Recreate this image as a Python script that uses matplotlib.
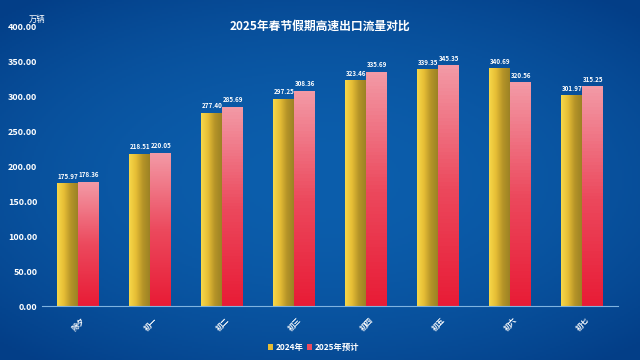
import numpy as np
import matplotlib.pyplot as plt
from matplotlib.patches import Patch

plt.rcParams['font.family'] = ['Noto Sans CJK SC', 'DejaVu Sans']

days = ['除夕', '初一', '初二', '初三', '初四', '初五', '初六', '初七']
y2024 = [175.97, 218.51, 277.40, 297.25, 323.46, 339.35, 340.69, 301.97]
y2025 = [178.36, 220.05, 285.69, 308.36, 335.69, 345.35, 320.56, 315.25]
yticks = [0, 50, 100, 150, 200, 250, 300, 350, 400]

fig = plt.figure(figsize=(6.4, 3.6), dpi=100)

# radial blue background
bg = fig.add_axes([0, 0, 1, 1])
gx, gy = np.meshgrid(np.linspace(-1, 1, 320), np.linspace(-1, 1, 180))
r = np.clip(np.sqrt((gx / 1.1) ** 2 + (gy / 1.0) ** 2), 0, 1.3) / 1.3
c_in = np.array([12, 94, 172]) / 255
c_out = np.array([3, 62, 135]) / 255
img = c_in[None, None, :] * (1 - r[..., None] ** 2) + c_out[None, None, :] * r[..., None] ** 2
bg.imshow(img, aspect='auto', extent=[0, 1, 0, 1])
bg.set_axis_off()

ax = fig.add_axes([0.066, 0.15, 0.9, 0.775])
ax.set_facecolor('none')

x = np.arange(len(days))
w = 0.29
b1 = ax.bar(x - w / 2, y2024, w, color='#e9c23a')
b2 = ax.bar(x + w / 2, y2025, w, color='#ec5a6a')

grad = np.linspace(0, 1, 64)[None, :]
yellow = plt.matplotlib.colors.LinearSegmentedColormap.from_list(
    'y', ['#f7d84a', '#e6bd35', '#b59428', '#9c8224'])
pink = plt.matplotlib.colors.LinearSegmentedColormap.from_list(
    'p', ['#e81c36', '#ec4a5e', '#f39aa6'])

for bar in b1:
    x0, y0 = bar.get_x(), bar.get_y()
    im = ax.imshow(grad, cmap=yellow, aspect='auto', origin='lower',
                   extent=[x0, x0 + bar.get_width(), y0, y0 + bar.get_height()], zorder=2)
    im.set_clip_path(bar)
for bar in b2:
    x0, y0 = bar.get_x(), bar.get_y()
    im = ax.imshow(grad.T, cmap=pink, aspect='auto', origin='lower',
                   extent=[x0, x0 + bar.get_width(), y0, y0 + bar.get_height()], zorder=2)
    im.set_clip_path(bar)

for xi, v in zip(x, y2024):
    ax.text(xi - w / 2, v + 5, f'{v:.2f}', ha='center', va='bottom', color='white',
            fontsize=4.5, fontweight='bold')
for xi, v in zip(x, y2025):
    ax.text(xi + w / 2, v + 5, f'{v:.2f}', ha='center', va='bottom', color='white',
            fontsize=4.5, fontweight='bold')

ax.set_xlim(-0.5, len(days) - 0.5)
ax.set_ylim(0, 400)
ax.set_yticks(yticks)
ax.set_yticklabels([f'{t:.2f}' for t in yticks], color='white', fontsize=6.5, fontweight='bold')
ax.set_xticks(x)
ax.set_xticklabels(days, rotation=45, color='white', fontsize=5.5, fontweight='bold')
ax.tick_params(length=0)
ax.tick_params(axis='x', pad=7)
for s in ['top', 'right', 'left']:
    ax.spines[s].set_visible(False)
ax.spines['bottom'].set_color('#7fb3e0')
ax.spines['bottom'].set_linewidth(0.8)

fig.text(0.5, 0.928, '2025年春节假期高速出口流量对比', ha='center', va='center',
         color='white', fontsize=8.5, fontweight='bold')
fig.text(0.058, 0.945, '万辆', ha='center', va='center', color='white', fontsize=6)

handles = [Patch(facecolor='#e6bd35'), Patch(facecolor='#ec4a5e')]
fig.legend(handles, ['2024年', '2025年预计'], loc='center', bbox_to_anchor=(0.49, 0.035),
           ncol=2, frameon=False, labelcolor='white', handlelength=0.6,
           handleheight=0.9, handletextpad=0.3, columnspacing=0.4,
           prop={'weight': 'bold', 'size': 6})

fig.savefig('out.png', dpi=100)
